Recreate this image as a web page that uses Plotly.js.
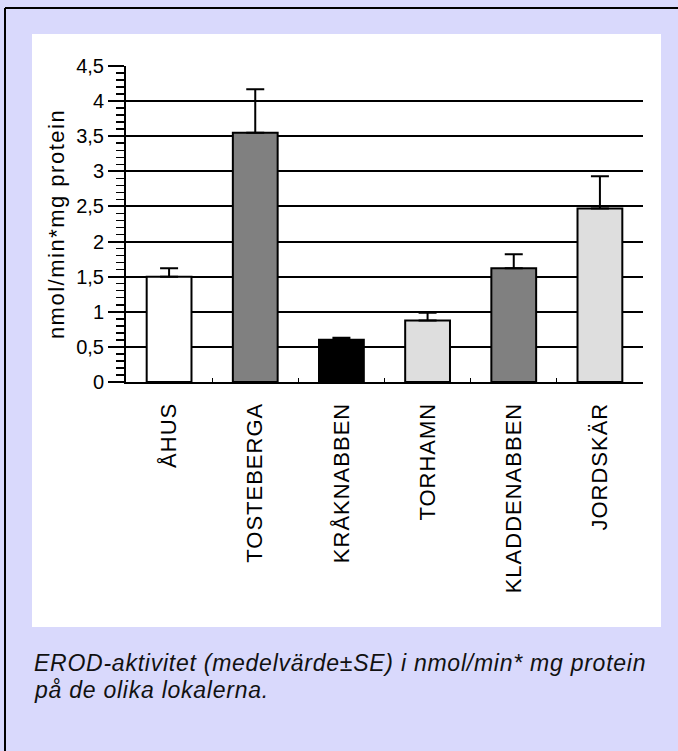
<!DOCTYPE html>
<html>
<head>
<meta charset="utf-8">
<script src="https://cdn.plot.ly/plotly-3.0.1.min.js"></script>
<style>
html,body{margin:0;padding:0;background:#d9d9fc;}
#chart{width:678px;height:751px;}
#chart .xtick text{letter-spacing:1px;}
#chart .ytitle{letter-spacing:1.5px;}
#chart .annotation-text{letter-spacing:0.75px;}
</style>
</head>
<body>
<div id="chart"></div>
<script>
const locations = ["ÅHUS", "TOSTEBERGA", "KRÅKNABBEN", "TORHAMN", "KLADDENABBEN", "JORDSKÄR"];
const meanValues = [1.50, 3.55, 0.60, 0.875, 1.62, 2.47];
const seValues = [0.12, 0.62, 0.03, 0.11, 0.20, 0.46];
const barColors = ["#ffffff", "#808080", "#000000", "#dedede", "#808080", "#dedede"];
const yTickValues = [0, 0.5, 1, 1.5, 2, 2.5, 3, 3.5, 4, 4.5];
const yTitle = "nmol/min*mg protein";
const captionLines = ["EROD-aktivitet (medelvärde±SE) i nmol/min* mg protein", "på de olika lokalerna."];

const W = 678, H = 751;
const M = {l: 126, r: 35, t: 66, b: 369};
const pw = W - M.l - M.r, ph = H - M.t - M.b;
const px = x => (x - M.l) / pw;
const py = y => (H - M.b - y) / ph;

const trace = {
  type: "bar",
  x: locations,
  y: meanValues,
  marker: {color: barColors, line: {color: "#000", width: 2}},
  error_y: {type: "data", symmetric: false, array: seValues,
            arrayminus: seValues.map(() => 0), color: "#000", thickness: 2, width: 9},
  hoverinfo: "none"
};

const font = "Liberation Sans, Arial, sans-serif";
const captionY = [663, 690];
const layout = {
  width: W, height: H,
  margin: {l: M.l, r: M.r, t: M.t, b: M.b, pad: 0},
  paper_bgcolor: "#d9d9fc",
  plot_bgcolor: "#ffffff",
  separators: ", ",
  showlegend: false,
  bargap: 0.48,
  font: {family: font, color: "#000"},
  xaxis: {
    type: "category", range: [-0.5, 5.5], fixedrange: true,
    showline: true, linecolor: "#000", linewidth: 2,
    ticks: "inside", tickson: "boundaries", ticklen: 4, tickwidth: 1, tickcolor: "#000",
    tickangle: -90, tickfont: {size: 22, family: font, color: "#000"},
    ticklabelstandoff: 10, showgrid: false, zeroline: false
  },
  yaxis: {
    range: [0, 4.5], tickvals: yTickValues, fixedrange: true,
    showline: true, linecolor: "#000", linewidth: 2,
    ticks: "outside", ticklen: 16, tickwidth: 2, tickcolor: "#000",
    tickfont: {size: 20, family: font, color: "#000"},
    showgrid: true, gridcolor: "#000", gridwidth: 2, zeroline: false,
    minor: {dtick: 0.1, ticks: "outside", ticklen: 8, tickwidth: 1.5, tickcolor: "#000", showgrid: false},
    title: {text: yTitle, font: {size: 22, family: font, color: "#000"}, standoff: 5}
  },
  shapes: [
    {type: "rect", xref: "paper", yref: "paper", layer: "below",
     x0: px(32), x1: px(661), y0: py(627), y1: py(34),
     fillcolor: "#ffffff", line: {width: 0}},
    {type: "line", xref: "paper", yref: "paper",
     x0: px(5), x1: px(700), y0: py(8), y1: py(8), line: {color: "#000", width: 2}},
    {type: "line", xref: "paper", yref: "paper",
     x0: px(5), x1: px(5), y0: py(8), y1: py(780), line: {color: "#000", width: 2}}
  ],
  annotations: captionLines.map((t, i) => ({
    xref: "paper", yref: "paper", x: px(32), y: py(captionY[i]), xanchor: "left", yanchor: "middle",
    align: "left", showarrow: false, text: t,
    font: {size: 23, family: font, color: "#111", style: "italic"}
  }))
};

Plotly.newPlot("chart", [trace], layout, {displayModeBar: false, staticPlot: true});
</script>
</body>
</html>
